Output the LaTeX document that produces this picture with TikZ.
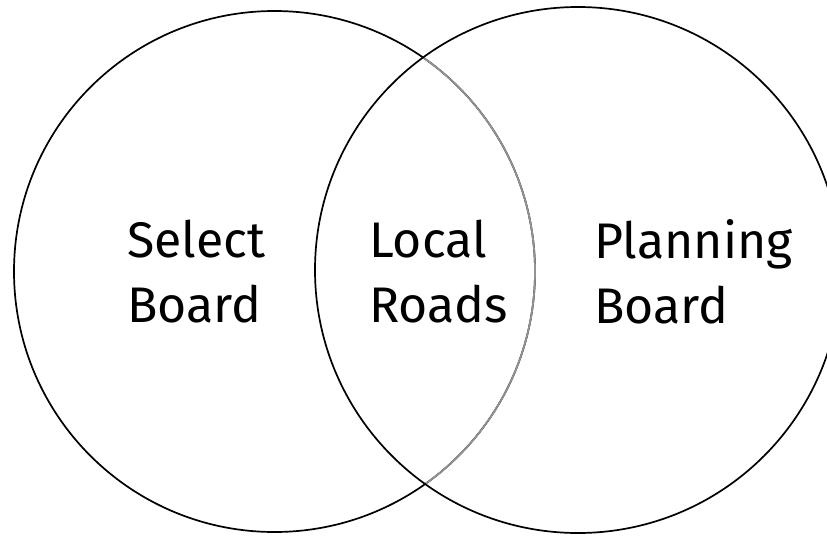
\documentclass[tikz,border=0pt]{standalone}
\usepackage{fontspec}
\setmainfont{Fira Sans}
\begin{document}
\begin{tikzpicture}[x=1pt,y=-1pt,
  ring/.style={draw=black,line width=1.7pt},
  lbl/.style={inner sep=0pt,align=left,anchor=west,font=\fontsize{50}{65}\selectfont}]
\useasboundingbox (0,0) rectangle (827,536);
\coordinate (cl) at (274.5,271.5);
\coordinate (cr) at (578,270);
\draw[ring] (cl) circle[radius=260.5];
\begin{scope}
  \clip (cr) circle[radius=263];
  \draw[line width=1.7pt,draw=gray!85] (cl) circle[radius=260.5];
\end{scope}
\draw[ring] (cr) circle[radius=263];
\node[lbl] (sb) at (127,272) {Select\\Board};
\node[lbl] (lr) at (369,272) {Local\\Roads};
\node[lbl] (pb) at (594,272) {Planning\\Board};
\end{tikzpicture}
\end{document}
